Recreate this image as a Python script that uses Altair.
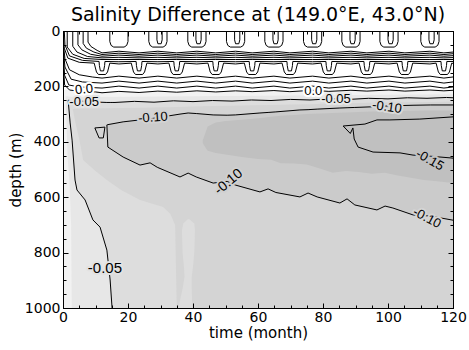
import altair as alt
import pandas as pd

# ---------------- text ----------------
TITLE = "Salinity Difference at (149.0°E, 43.0°N)"
X_TITLE = "time (month)"
Y_TITLE = "depth (m)"
X_MAJOR = [0, 20, 40, 60, 80, 100, 120]
Y_MAJOR = [0, 200, 400, 600, 800, 1000]
X_MINOR = [0, 5, 10, 15, 20, 25, 30, 35, 40, 45, 50, 55, 60, 65, 70, 75, 80, 85, 90, 95, 100, 105, 110, 115, 120]
Y_MINOR = [0, 50, 100, 150, 200, 250, 300, 350, 400, 450, 500, 550, 600, 650, 700, 750, 800, 850, 900, 950, 1000]

# grey shades of the filled intervals (lightest = just below 0)
SHADES = {"f1": "#f2f2f2", "f2": "#e7e7e7", "f3": "#dddddd", "f4": "#d4d4d4",
          "f5": "#cbcbcb", "f6": "#c0c0c0"}

# ---------------- seasonal structures of the upper 200 m ----------------
TOP_U_CENTRES = [17.2, 29.2, 41.2, 53.1, 64.9, 76.8, 88.6, 100.3, 112.9]
LOW_U_CENTRES = [12.0, 23.4, 35.0, 47.0, 58.2, 69.8, 81.8, 93.5, 105.2, 117.2]

TOP_U_OUTER_DM = [-2.8, -2.8, -2.4, -1.6, 1.6, 2.4, 2.8, 2.8]
TOP_U_OUTER_D = [0, 38, 52, 58, 58, 52, 38, 0]
TOP_U_INNER_DM = [-0.3, -0.3, 0.0, 1.0, 1.3, 1.3]
TOP_U_INNER_D = [0, 32, 46, 46, 32, 0]

LOW_U_OUTER_DM = [-2.4, -2.1, -1.7, -1.1, 1.1, 1.7, 2.1, 2.4]
LOW_U_OUTER_D = [116, 130, 148, 157, 157, 148, 130, 116]
LOW_U_INNER_DM = [-0.9, -0.8, -0.5, 0.5, 0.8, 0.9]
LOW_U_INNER_D = [110, 125, 144, 144, 125, 110]

# 7 tightly packed lines of the halocline band
BAND_AT_TOP_U = [73, 80, 87, 95, 103, 111, 119]
BAND_AT_LOW_U = [79, 85, 91, 97, 103, 110, 116]
BAND_AT_END = [76, 82, 89, 96, 103, 110, 117]
BAND_LEFT = [
    [(7.7, 0), (7.7, 40), (8.6, 56), (10.5, 70)],
    [(6.2, 0), (6.2, 45), (7.2, 62), (9.5, 76)],
    [(4.6, 0), (4.6, 50), (5.8, 68), (8.5, 84)],
    [(3.0, 0), (3.0, 55), (4.3, 76), (7.5, 92)],
    [(1.3, 0), (1.3, 58), (3.0, 84), (6.5, 99)],
    [(0.4, 0), (0.6, 50), (2.0, 90), (6.0, 106)],
    [(0.05, 20), (0.4, 62), (1.5, 98), (5.0, 113)],
]

# three positive contours between the band and 0.0
UPPER_BASE = [166, 184, 202]
WAVE_AT_LOW = 4
WAVE_AT_TOP = -3
UPPER_LEFT = [
    [(0.05, 40), (0.6, 100), (2.0, 140), (5.0, 158), (9.0, 166)],
    [(0.05, 60), (0.6, 130), (2.5, 174), (6.0, 184)],
    [(0.05, 85), (0.5, 160), (1.8, 195), (5.0, 202)],
]

# 0.0 contour
ZERO_M = [0.1, 0.5, 2.0, 4.0, 10, 12, 17.2, 23.4, 29.2, 35, 41.2, 47, 53.1, 58.2, 64.9,
          69.8, 76.8, 81.8, 88.6, 93.5, 100.3, 105.2, 112.9, 117.2, 120]
ZERO_D = [120, 195, 213, 216, 220, 223, 218, 222, 217, 221, 216, 220, 216, 219, 215,
          219, 214, 218, 214, 217, 213, 217, 213, 216, 214]

# ---------------- filled intervals (month, upper depth, lower depth) ----------------
F2_M = [0.8, 1.0, 1.4, 2.0, 2.5, 2.7, 6, 20, 40, 60, 80, 100, 120]
F2_TOP = [236, 236, 236, 237, 237, 237, 238, 237, 236, 234, 232, 230, 228]
F2_BOT = [240, 300, 450, 550, 700, 1000, 1000, 1000, 1000, 1000, 1000, 1000, 1000]

# region below the -0.05 contour (its lower edge on the left is the contour itself)
F3_M = [1.6, 2.2, 2.8, 3.7, 4.3, 6.8, 9.2, 11.4, 13.5, 14.5, 15.1, 16, 22, 28, 34, 40, 46,
        52, 58, 64, 70, 76, 82, 88, 94, 100, 106, 112, 118, 120]
F3_TOP = [250, 251, 251, 252, 252, 254, 256, 257, 258, 258, 258, 258, 254, 257, 252, 255, 251,
          253, 249, 251, 247, 249, 245, 247, 243, 245, 241, 243, 240, 241]
F3_BOT = [252, 332, 394, 538, 574, 610, 682, 708, 791, 899, 1000, 1000, 1000, 1000, 1000, 1000,
          1000, 1000, 1000, 1000, 1000, 1000, 1000, 1000, 1000, 1000, 1000, 1000, 1000, 1000]

F4_M = [3, 4, 5, 6.2, 10, 13.5, 18, 23.7, 27, 30.8, 33, 34.5, 35, 40, 46, 52, 58, 64, 70, 76,
        82, 88, 94, 100, 106, 112, 118, 120]
F4_TOP = [282, 281, 281, 280, 280, 279, 278, 277, 276, 275, 275, 274, 274, 273, 271, 270, 268,
          267, 265, 264, 262, 261, 259, 258, 257, 256, 255, 255]
F4_BOT = [283, 340, 390, 466, 505, 538, 575, 610, 622, 635, 660, 700, 1000, 1000, 1000, 1000,
          1000, 1000, 1000, 1000, 1000, 1000, 1000, 1000, 1000, 1000, 1000, 1000]

# lighter tongue near month 38 (depth, left month, right month)
TONGUE_D = [680, 695, 720, 800, 850, 888, 930, 1000]
TONGUE_L = [38.4, 37.0, 36.6, 36.8, 37.2, 37.4, 36.8, 35.5]
TONGUE_R = [38.9, 40.4, 40.6, 40.4, 40.0, 39.6, 39.6, 39.8]

# inside the -0.10 contour
F5_M = [13.5, 13.8, 18.5, 23.7, 26.8, 29, 36, 38.5, 41, 46.2, 50.5, 53, 60.6, 63.1, 65.5,
        72.9, 75.4, 78.2, 85.2, 87.4, 89.8, 96.6, 99.1, 101.5, 107.7, 113, 120]
F5_TOP = [339, 338, 328, 321, 317, 313, 300, 296, 298, 303, 304, 303, 296, 294, 292,
          285, 284, 282, 278, 277, 276, 273, 271, 270, 268, 267, 267]
F5_BOT = [342, 419, 455, 484, 476, 492, 527, 513, 527, 549, 543, 556, 581, 570, 583,
          599, 585, 599, 621, 606, 628, 646, 632, 639, 664, 668, 683]

F6_M = [43, 44.5, 47, 50, 55, 60, 64, 67, 71, 75, 79, 83, 87, 91, 95, 99, 103, 107, 111, 115, 120]
F6_TOP = [395, 345, 330, 325, 320, 315, 310, 306, 303, 300, 298, 296, 294, 292, 291, 290, 289,
          288, 287, 287, 287]
F6_BOT = [405, 432, 440, 446, 455, 462, 465, 477, 478, 482, 496, 512, 505, 509, 515, 512, 522,
          530, 538, 542, 549]

# -0.15 contour and the small -0.10 loop
NEG15_M = [120, 109.8, 100.6, 96.6, 92.9, 86.2, 88.4, 89.2, 89.6, 90.8, 95.4, 103.7, 107.7, 113, 119.1, 120]
NEG15_D = [310, 318, 321, 321, 336, 343, 370, 350, 390, 419, 437, 440, 448, 452, 458, 459]
LOOP_M = [9.8, 12.9, 12.4, 11.1, 9.8]
LOOP_D = [350, 347, 386, 386, 350]

# contour labels
LABEL_TEXT = ["0.0", "-0.05", "-0.10", "0.0", "-0.05", "-0.10", "-0.10", "-0.15", "-0.10", "-0.05"]
LABEL_M = [6.5, 6.5, 27.7, 77.0, 84.0, 99.7, 51.0, 112.9, 112.0, 12.9]
LABEL_D = [211, 255, 312, 215, 246, 274, 545, 466, 675, 856]
LABEL_ANGLE = [354, 0, 356, 0, 0, 8, 320, 30, 28, 0]
LABEL_SIZE = [13, 13, 13, 13, 13, 13, 14, 13, 13, 15]
LABEL_HALO = ["#ffffff", "#e4e4e4", "#d2d2d2", "#ffffff", "#e7e7e7", "#d8d8d8",
              "#d0d0d0", "#c0c0c0", "#d4d4d4", "#e2e2e2"]

# ---------------- build tables ----------------
events = sorted([(c, "top") for c in TOP_U_CENTRES] + [(u, "low") for u in LOW_U_CENTRES])
segments = []


def add(name, pts):
    segments.append((name, pts))


for i, c in enumerate(TOP_U_CENTRES):
    add(f"tuo{i}", [(c + dm, d) for dm, d in zip(TOP_U_OUTER_DM, TOP_U_OUTER_D)])
    if i > 0:
        add(f"tui{i}", [(c + dm, d) for dm, d in zip(TOP_U_INNER_DM, TOP_U_INNER_D)])

for k in range(7):
    pts = list(BAND_LEFT[k])
    start = pts[-1][0]
    for m, kind in events:
        if m <= start + 0.5:
            continue
        if kind == "top":
            pts.append((m, BAND_AT_TOP_U[k]))
        elif k == 6:
            pts += [(m + dm, d) for dm, d in zip(LOW_U_OUTER_DM, LOW_U_OUTER_D)]
        elif k == 5:
            pts += [(m + dm, d) for dm, d in zip(LOW_U_INNER_DM, LOW_U_INNER_D)]
        else:
            pts.append((m, BAND_AT_LOW_U[k]))
    pts.append((120, BAND_AT_END[k]))
    add(f"band{k}", pts)

for j in range(3):
    pts = list(UPPER_LEFT[j])
    start = pts[-1][0]
    for m, kind in events:
        if m <= start + 0.5:
            continue
        pts.append((m, UPPER_BASE[j] + (WAVE_AT_LOW if kind == "low" else WAVE_AT_TOP)))
    pts.append((120, UPPER_BASE[j]))
    add(f"up{j}", pts)

add("zero", list(zip(ZERO_M, ZERO_D)))
add("neg05", list(zip(F3_M[:11], F3_BOT[:11]))[::-1] + list(zip(F3_M, F3_TOP)))
add("neg10", list(zip(F5_M, F5_TOP))[::-1] + list(zip(F5_M[1:], F5_BOT[1:])))
add("neg15", list(zip(NEG15_M, NEG15_D)))
add("loop", list(zip(LOOP_M, LOOP_D)))

rows = []
for name, pts in segments:
    for idx, (m, d) in enumerate(pts):
        rows.append({"seg": name, "idx": idx, "month": m, "depth": d})
lines_df = pd.DataFrame(rows)

F1_M = [0.0] + ZERO_M[2:]
F1_TOP = [212] + ZERO_D[2:]
F1_BOT = [1000] * len(F1_M)

areas = [
    ("f1", F1_M, F1_TOP, F1_BOT),
    ("f2", F2_M, F2_TOP, F2_BOT),
    ("f3", F3_M, F3_TOP, F3_BOT),
    ("f4", F4_M, F4_TOP, F4_BOT),
    ("f5", F5_M, F5_TOP, F5_BOT),
    ("f6", F6_M, F6_TOP, F6_BOT),
]

labels_df = pd.DataFrame({"text": LABEL_TEXT, "month": LABEL_M, "depth": LABEL_D,
                          "angle": LABEL_ANGLE, "size": LABEL_SIZE, "halo": LABEL_HALO})

# ---------------- scales and axes ----------------
XS = alt.Scale(domain=[0, 120], nice=False, zero=False)
YS = alt.Scale(domain=[0, 1000], nice=False, zero=False, reverse=True)
FONT = "DejaVu Sans"

common = dict(grid=False, tickColor="black", tickWidth=1, zindex=1, labelFlush=False,
              labelOverlap=False, format="d")


def tick_axis(orient, values, size, labels=False, title=None, **kw):
    return alt.Axis(orient=orient, values=values, tickSize=size, offset=-size, domain=False,
                    labels=labels, title=title, **common, **kw)


def frame_axis(orient):
    return alt.Axis(orient=orient, domain=True, domainColor="black", domainWidth=1,
                    ticks=False, labels=False, title=None, grid=False, zindex=1)


x_axes = [
    tick_axis("bottom", X_MAJOR, 5, labels=True, title=X_TITLE, labelFont=FONT, labelFontSize=14,
              labelColor="black", labelPadding=2, titleFont=FONT, titleFontSize=15,
              titleFontWeight="normal", titleColor="black", titleY=29, titleBaseline="middle"),
    tick_axis("top", X_MAJOR, 5),
    tick_axis("bottom", X_MINOR, 3),
    tick_axis("top", X_MINOR, 3),
    frame_axis("bottom"),
    frame_axis("top"),
]
y_axes = [
    tick_axis("left", Y_MAJOR, 5, labels=True, title=Y_TITLE, labelFont=FONT, labelFontSize=14,
              labelColor="black", labelPadding=3, titleFont=FONT, titleFontSize=15,
              titleFontWeight="normal", titleColor="black", titleX=-53, titleY=138.5,
              titleAngle=270, titleBaseline="middle", titleAlign="center"),
    tick_axis("right", Y_MAJOR, 5),
    tick_axis("left", Y_MINOR, 3),
    tick_axis("right", Y_MINOR, 3),
    frame_axis("left"),
    frame_axis("right"),
]

layers = []
axis_i = 0
for name, ms, tops, bots in areas:
    df = pd.DataFrame({"month": ms, "top": tops, "bottom": bots})
    xa = x_axes[axis_i] if axis_i < len(x_axes) else None
    ya = y_axes[axis_i] if axis_i < len(y_axes) else None
    axis_i += 1
    layers.append(
        alt.Chart(df).mark_area(color=SHADES[name], clip=True).encode(
            x=alt.X("month:Q", scale=XS, axis=xa),
            y=alt.Y("top:Q", scale=YS, axis=ya, stack=None),
            y2="bottom:Q",
        )
    )
    if name == "f4":
        tdf = pd.DataFrame({"depth": TONGUE_D, "left": TONGUE_L, "right": TONGUE_R})
        layers.append(
            alt.Chart(tdf).mark_area(color=SHADES["f3"], orient="horizontal", clip=True).encode(
                y=alt.Y("depth:Q", scale=YS, axis=y_axes[axis_i]),
                x=alt.X("left:Q", scale=XS, axis=x_axes[axis_i]),
                x2="right:Q",
            )
        )
        axis_i += 1

layers.append(
    alt.Chart(lines_df).mark_line(color="black", strokeWidth=1, clip=True).encode(
        x=alt.X("month:Q", scale=XS, axis=None),
        y=alt.Y("depth:Q", scale=YS, axis=None),
        detail="seg:N",
        order="idx:Q",
    )
)

text_enc = dict(
    x=alt.X("month:Q", scale=XS, axis=None),
    y=alt.Y("depth:Q", scale=YS, axis=None),
    text="text:N",
    angle=alt.Angle("angle:Q", scale=None),
    size=alt.Size("size:Q", scale=None),
)
layers.append(
    alt.Chart(labels_df).mark_text(font="Liberation Sans", strokeWidth=4, strokeJoin="round",
                                   align="center", baseline="middle").encode(
        color=alt.Color("halo:N", scale=None),
        stroke=alt.Stroke("halo:N", scale=None),
        **text_enc,
    )
)
layers.append(
    alt.Chart(labels_df).mark_text(font="Liberation Sans", color="black",
                                   align="center", baseline="middle").encode(**text_enc)
)

chart = (
    alt.layer(*layers)
    .resolve_axis(x="independent", y="independent")
    .properties(
        width=390,
        height=277,
        autosize=alt.AutoSizeParams(type="none"),
        padding={"left": 63, "top": 31, "right": 16, "bottom": 42},
        title=alt.TitleParams(TITLE, font=FONT, fontSize=19, fontWeight="normal", color="black",
                              anchor="middle", frame="group", offset=-1),
    )
    .configure_view(stroke=None, fill="white")
    .configure(background="white")
)

chart.save("out.html", embed_options={"renderer": "svg", "actions": False})
